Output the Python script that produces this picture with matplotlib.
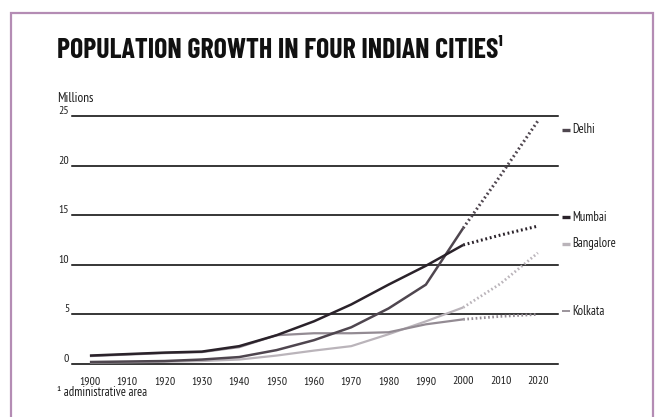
import matplotlib.pyplot as plt
from matplotlib.patches import Rectangle

# decades, solid part is census data, dotted part is projection
years = [1900, 1910, 1920, 1930, 1940, 1950, 1960, 1970, 1980, 1990, 2000]
proj_years = [2000, 2010, 2020]

delhi = [0.2, 0.25, 0.3, 0.45, 0.7, 1.4, 2.4, 3.7, 5.6, 8.0, 13.7]
delhi_proj = [13.7, 19.0, 24.5]

mumbai = [0.85, 1.0, 1.15, 1.25, 1.8, 2.9, 4.3, 6.0, 8.0, 9.9, 12.0]
mumbai_proj = [12.0, 13.0, 13.9]

bangalore = [0.15, 0.18, 0.22, 0.3, 0.45, 0.85, 1.35, 1.8, 3.0, 4.3, 5.7]
bangalore_proj = [5.7, 8.1, 11.2]

kolkata = [0.8, 0.95, 1.1, 1.2, 1.7, 2.9, 3.1, 3.1, 3.2, 4.0, 4.5]
kolkata_proj = [4.5, 4.8, 5.0]

cities = ['Delhi', 'Mumbai', 'Bangalore', 'Kolkata']
yticks = [0, 5, 10, 15, 20, 25]
xticks = list(range(1900, 2021, 10))

colors = {'Delhi': '#4f464f', 'Mumbai': '#2a222a', 'Bangalore': '#bab4ba', 'Kolkata': '#938b93'}
widths = {'Delhi': 1.8, 'Mumbai': 1.8, 'Bangalore': 1.6, 'Kolkata': 1.6}
label_y = {'Delhi': 23.6, 'Mumbai': 14.8, 'Bangalore': 12.1, 'Kolkata': 5.3}

series = {
    'Delhi': (delhi, delhi_proj),
    'Mumbai': (mumbai, mumbai_proj),
    'Bangalore': (bangalore, bangalore_proj),
    'Kolkata': (kolkata, kolkata_proj),
}

narrow = ['PT Sans Narrow', 'DejaVu Sans']
heavy = ['Barlow Condensed', 'DejaVu Sans']
ink = '#1e1e1e'

fig = plt.figure(figsize=(6.62, 4.17), dpi=100)
fig.patch.set_facecolor('white')

# purple frame, open at the bottom
fig.patches.append(Rectangle((11 / 662, -0.05), 642 / 662, 1.05 - 13 / 417,
                             transform=fig.transFigure, fill=False,
                             edgecolor='#b48cb4', lw=1.6))

ax = fig.add_axes([72 / 662, 53 / 417, 486 / 662, 248 / 417])
ax.set_xlim(1895.2, 2025.4)
ax.set_ylim(0, 25)

for v in yticks:
    ax.axhline(v, color='black', lw=1.1, zorder=1, clip_on=False)

# lightest first so the darker lines sit on top
for c in ['Bangalore', 'Kolkata', 'Delhi', 'Mumbai']:
    vals, proj = series[c]
    ax.plot(years, vals, color=colors[c], lw=widths[c], solid_capstyle='butt', zorder=3)
    ax.plot(proj_years, proj, color=colors[c], lw=widths[c] + 0.4, ls=(0, (0.6, 0.9)),
            zorder=3, clip_on=False)

for spine in ax.spines.values():
    spine.set_visible(False)

ax.set_yticks(yticks)
ax.set_yticklabels([str(v) for v in yticks], fontsize=8.5, family=narrow, color=ink)
for lbl in ax.get_yticklabels():
    lbl.set_va('bottom')
ax.set_xticks(xticks)
ax.set_xticklabels([str(v) for v in xticks], fontsize=8.5, family=narrow, color=ink)
ax.tick_params(axis='y', length=0, pad=2)
ax.tick_params(axis='x', length=0, pad=9)

# legend at the right
for c in cities:
    ax.plot([2026.5, 2028.6], [label_y[c]] * 2, color=colors[c],
            lw=2.4 if c != 'Kolkata' else 1.3, clip_on=False, solid_capstyle='butt')
    ax.text(2029.2, label_y[c], c, fontsize=9, family=narrow, va='center', ha='left',
            color=ink)

title = fig.text(57 / 662, 1 - 51 / 417, 'POPULATION GROWTH IN FOUR INDIAN CITIES\u00b9',
                 fontsize=20, fontweight='bold', family=heavy, va='center', ha='left',
                 color='#111111')
# fit the title to the width it has in the original
r = fig.canvas.get_renderer()
w = title.get_window_extent(r).width
title.set_fontsize(20 * 445 / w)

fig.text(57 / 662, 1 - 98 / 417, 'Millions', fontsize=9.5, family=narrow, va='center',
         ha='left', color=ink)
fig.text(57 / 662, 1 - 392 / 417, '\u00b9 administrative area', fontsize=9, family=narrow,
         va='center', ha='left', color=ink)

fig.savefig('out.png', dpi=100)
